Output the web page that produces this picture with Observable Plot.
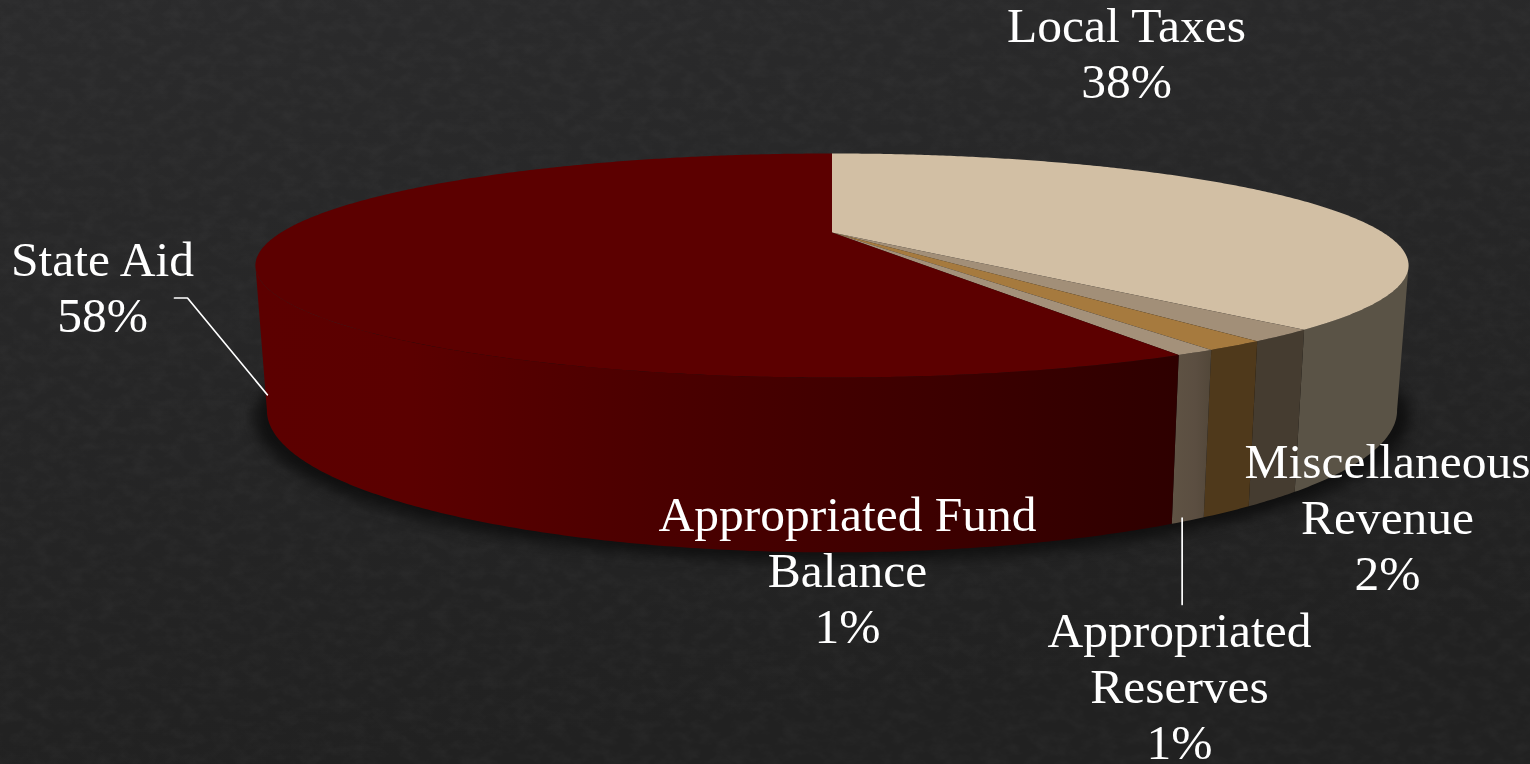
<!DOCTYPE html>
<html>
<head>
<meta charset="utf-8">
<script src="https://cdn.jsdelivr.net/npm/d3@7"></script>
<script src="https://cdn.jsdelivr.net/npm/@observablehq/plot@0.6"></script>
<style>
html,body{margin:0;padding:0;width:1530px;height:764px;overflow:hidden;background:#272727;}
#bg{position:absolute;left:0;top:0;width:1530px;height:764px;}
#chart{position:absolute;left:0;top:0;}
svg{display:block;}
</style>
</head>
<body>
<svg id="bg" width="1530" height="764">
  <defs>
    <filter id="noise" x="0" y="0" width="100%" height="100%">
      <feTurbulence type="fractalNoise" baseFrequency="0.06 0.09" numOctaves="4" seed="7"/>
      <feColorMatrix type="matrix" values="0 0 0 0 1  0 0 0 0 1  0 0 0 0 1  0.5 0 0 0 -0.18"/>
    </filter>
    <linearGradient id="wash" x1="0" y1="0" x2="0.25" y2="1">
      <stop offset="0" stop-color="#2b2b2c"/>
      <stop offset="1" stop-color="#212121"/>
    </linearGradient>
  </defs>
  <rect width="1530" height="764" fill="url(#wash)"/>
  <rect width="1530" height="764" filter="url(#noise)" opacity="0.1"/>
</svg>
<div id="chart"></div>
<script>
// ---- data (clockwise from 12 o'clock) ----
const names  = ["Local Taxes", "Miscellaneous\nRevenue", "Appropriated Fund\nBalance", "Appropriated\nReserves", "State Aid"];
const shares = [38.33, 1.67, 1.4, 0.9, 57.7];
const topColors  = ["#d2bfa4", "#a28f78", "#a67a3e", "#a4917a", "#5c0000"];
const sideColors = ["#5a5346", "#453c30", "#4f391b", "url(#resSide)", "url(#redSide)"];

// ---- label layout ----
const labelX = [1126, 1387, 847, 1179, 102];
const labelY = [52, 516, 569, 685, 286];

// ---- perspective model of the tilted disc ----
const cx = 831.5, k = 0.2946;
const topDisc    = {y0: 232, a: 102.3, b: 551};
const bottomDisc = {y0: 368, a: 129.7, b: 540};
const rad = d => d * Math.PI / 180;
const project = (disc, deg) => {
  const c = Math.cos(rad(deg)), s = Math.sin(rad(deg)), w = 1 + k * s;
  return {x: cx + disc.b * c / w, y: disc.y0 - disc.a * s / w};
};
const arc = (disc, from, to) => {
  const n = Math.max(2, Math.ceil(Math.abs(to - from) / 0.5));
  return d3.range(n + 1).map(i => project(disc, from + (to - from) * i / n));
};

// slice angles: math degrees, going clockwise from the top
let acc = 0;
const slices = shares.map((v, i) => {
  const start = 90 - acc * 3.6;
  acc += v;
  return {name: names[i], share: v, start, end: 90 - acc * 3.6, top: topColors[i], side: sideColors[i]};
});

const silhouetteRight = -17.13, silhouetteLeft = -162.87;

const topRows = slices.flatMap(s =>
  [{x: cx, y: topDisc.y0}, ...arc(topDisc, s.start, s.end)].map(p => ({...p, name: s.name, color: s.top})));

const sideRows = slices.flatMap(s => {
  const a = Math.min(s.start, silhouetteRight), b = Math.max(s.end, silhouetteLeft);
  if (a <= b) return [];
  return [...arc(topDisc, a, b), ...arc(bottomDisc, b, a)].map(p => ({...p, name: s.name, color: s.side}));
});

const shadowDisc = {y0: bottomDisc.y0 + 7, a: bottomDisc.a * 1.01, b: bottomDisc.b * 1.022};
const shadowRows = arc(shadowDisc, 0, 360);

// leader lines start from the middle of their slices
const mid = s => (s.start + s.end) / 2;
const mix = (p, q, f) => ({x: p.x + (q.x - p.x) * f, y: p.y + (q.y - p.y) * f});
const edgePoint = (s, f) => mix(project(topDisc, mid(s)), project(bottomDisc, mid(s)), f);
const stateAnchor = edgePoint(slices[4], 0.95);
const resAnchor = edgePoint(slices[3], 0.985);
const leaders = [
  {id: "state", x: stateAnchor.x, y: stateAnchor.y},
  {id: "state", x: 187, y: 297.5},
  {id: "state", x: 174, y: 297.5},
  {id: "res", x: resAnchor.x - 6, y: resAnchor.y},
  {id: "res", x: resAnchor.x - 6, y: 604}
];

const labels = slices.map((s, i) => ({
  text: `${s.name}\n${Math.round(s.share)}%`, x: labelX[i], y: labelY[i]
}));

const gradients = () => {
  const defs = d3.create("svg:defs");
  const red = defs.append("linearGradient").attr("id", "redSide");
  [[0, "#5c0000"], [0.17, "#5b0000"], [0.45, "#4a0000"], [0.75, "#3c0000"], [1, "#2e0000"]]
    .forEach(([o, c]) => red.append("stop").attr("offset", o).attr("stop-color", c));
  const res = defs.append("linearGradient").attr("id", "resSide");
  [[0, "#5f5344"], [0.6, "#5b4e41"], [1, "#524739"]]
    .forEach(([o, c]) => res.append("stop").attr("offset", o).attr("stop-color", c));
  return defs.node();
};

const chart = Plot.plot({
  width: 1530, height: 764, margin: 0,
  x: {domain: [0, 1530], axis: null},
  y: {domain: [764, 0], axis: null},
  color: {type: "identity"},
  style: {background: "transparent", overflow: "visible"},
  marks: [
    gradients,
    Plot.line(shadowRows, {x: "x", y: "y", fill: "#0c0c0c", fillOpacity: 0.85, stroke: "none", imageFilter: "blur(7px)"}),
    Plot.line(sideRows, {x: "x", y: "y", z: "name", fill: "color", stroke: "none"}),
    Plot.line(topRows, {x: "x", y: "y", z: "name", fill: "color", stroke: "none"}),
    Plot.line(leaders, {x: "x", y: "y", z: "id", stroke: "#ffffff", strokeWidth: 1.7}),
    Plot.text(labels, {
      x: "x", y: "y", text: "text", fill: "#ffffff", fontSize: 49.5, lineHeight: 1.13,
      fontFamily: "'Liberation Serif', serif", lineAnchor: "middle", textAnchor: "middle"
    })
  ]
});
document.getElementById("chart").appendChild(chart);
</script>
</body>
</html>
